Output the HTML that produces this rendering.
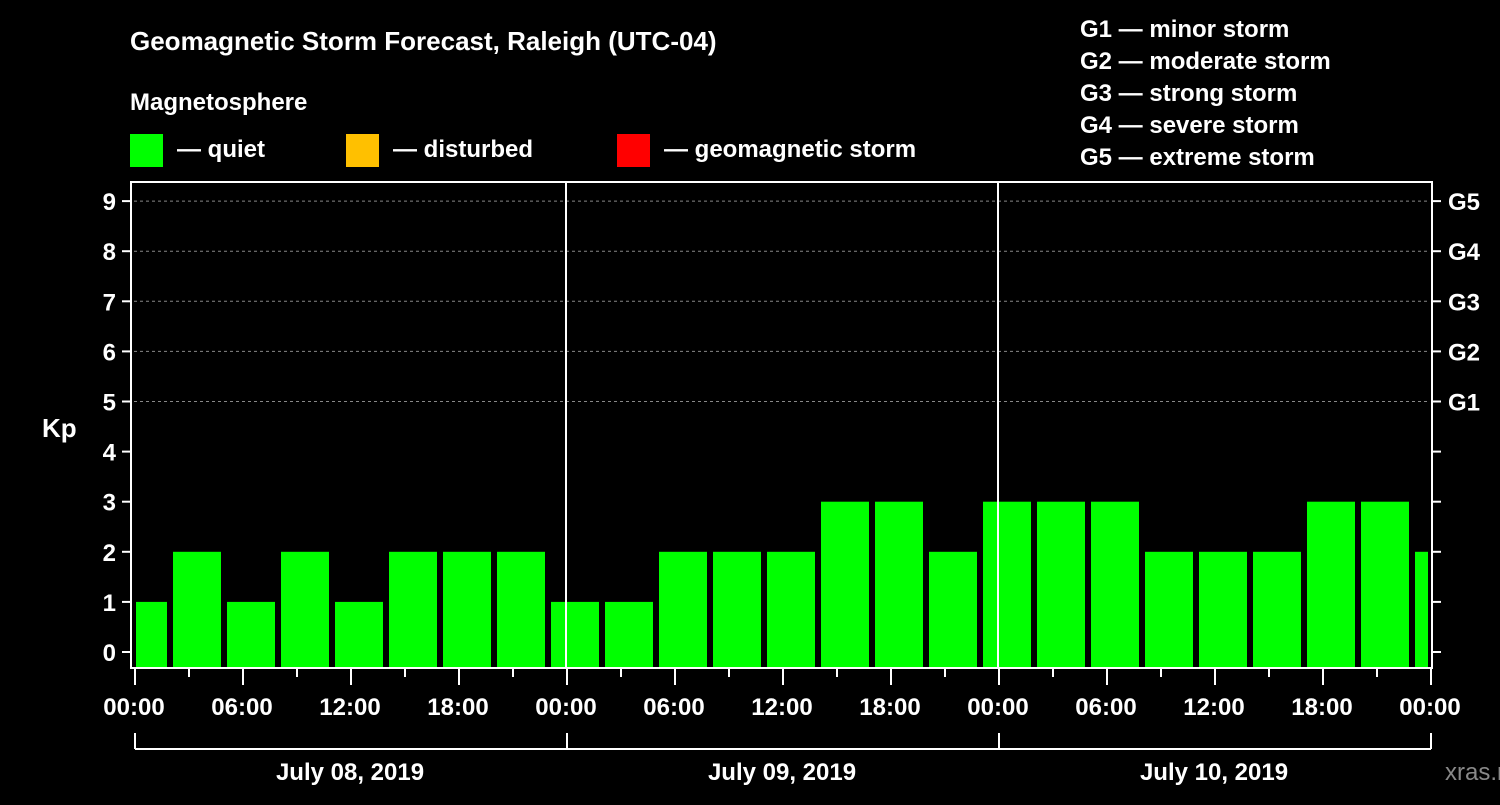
<!DOCTYPE html>
<html><head><meta charset="utf-8"><style>
body{margin:0;background:#000;}
svg text{font-family:"Liberation Sans",sans-serif;font-weight:bold;fill:#fff;}
</style></head><body>
<svg id="c" width="1500" height="800" xmlns="http://www.w3.org/2000/svg">
<rect width="1500" height="800" fill="#000"/>
<text x="130" y="50" font-size="26">Geomagnetic Storm Forecast, Raleigh (UTC-04)</text>
<text x="130" y="110" font-size="24">Magnetosphere</text>
<rect x="130" y="134" width="33" height="33" fill="#00ff00"/>
<text x="177" y="157" font-size="24">— quiet</text>
<rect x="346" y="134" width="33" height="33" fill="#ffc000"/>
<text x="393" y="157" font-size="24">— disturbed</text>
<rect x="617" y="134" width="33" height="33" fill="#ff0000"/>
<text x="664" y="157" font-size="24">— geomagnetic storm</text>
<g font-size="24">
<text x="1080" y="37">G1 — minor storm</text>
<text x="1080" y="69">G2 — moderate storm</text>
<text x="1080" y="101">G3 — strong storm</text>
<text x="1080" y="133">G4 — severe storm</text>
<text x="1080" y="165">G5 — extreme storm</text>
</g>
<text x="42" y="437" font-size="26">Kp</text>
<text x="1445" y="780" font-size="24" fill="#888" style="fill:#888;font-weight:normal">xras.ru</text>
<g id="g"></g>
</svg>
<script>
const kpValues=[1,2,1,2,1,2,2,2,1,1,2,2,2,3,3,2,3,3,3,2,2,2,3,3,2];
const yTicks=[0,1,2,3,4,5,6,7,8,9];
const gLabels=["G1","G2","G3","G4","G5"];
const xLabels=["00:00","06:00","12:00","18:00","00:00","06:00","12:00","18:00","00:00","06:00","12:00","18:00","00:00"];
const dateLabels=["July 08, 2019","July 09, 2019","July 10, 2019"];
const X0=134,X1=1430,HPX=18,Y0=652,UNIT=50.1,TOP=182,BOT=668;
const xs=h=>X0+h*HPX, ys=v=>Y0-v*UNIT;
const g=document.getElementById('g'),NS='http://www.w3.org/2000/svg';
function mk(t,a,txt){const e=document.createElementNS(NS,t);for(const k in a)e.setAttribute(k,a[k]);if(txt!=null)e.textContent=txt;g.appendChild(e);return e;}
// grid
yTicks.forEach(v=>{if(v>=5){const e=mk('line',{x1:X0,x2:X1,y1:ys(v),y2:ys(v),stroke:'#888','stroke-dasharray':'3,3','stroke-width':1});

}});
// bars
const clip=mk('clipPath',{id:'pc'});const cr=document.createElementNS(NS,'rect');cr.setAttribute('x',X0+2);cr.setAttribute('y',TOP);cr.setAttribute('width',X1-X0-4);cr.setAttribute('height',BOT-TOP);clip.appendChild(cr);
kpValues.forEach((v,i)=>{const h0=-1+3*i;const col=v>=5?'#ff0000':(v>=4?'#ffc000':'#00ff00');
const e=mk('rect',{x:xs(h0)+3,y:ys(v),width:3*HPX-6,height:BOT-ys(v),fill:col,'clip-path':'url(#pc)'});

});
// day separators
[24,48].forEach(h=>{const e=mk('line',{x1:xs(h),x2:xs(h),y1:TOP,y2:BOT,stroke:'#fff','stroke-width':2});

});
// frame
const fr=mk('rect',{x:131,y:TOP,width:X1-131+2,height:BOT-TOP,fill:'none',stroke:'#fff','stroke-width':2});


// y ticks
yTicks.forEach(v=>{mk('line',{x1:122,x2:131,y1:ys(v),y2:ys(v),stroke:'#fff','stroke-width':2});
mk('line',{x1:X1+2,x2:X1+11,y1:ys(v),y2:ys(v),stroke:'#fff','stroke-width':2});
const t=mk('text',{x:116,y:ys(v)+9,'font-size':24,'text-anchor':'end'},String(v));

});
gLabels.forEach((s,i)=>{const t=mk('text',{x:1448,y:ys(5+i)+9,'font-size':24},s);

});
// x ticks
for(let h=0;h<=72;h+=3){const major=h%6==0;mk('line',{x1:xs(h)+1,x2:xs(h)+1,y1:BOT,y2:BOT+(major?17:9),stroke:'#fff','stroke-width':2});}
xLabels.forEach((s,i)=>{const t=mk('text',{x:xs(i*6),y:715,'font-size':24,'text-anchor':'middle'},s);

});
// date bracket
mk('line',{x1:xs(0)+1,x2:xs(72)+1,y1:749,y2:749,stroke:'#fff','stroke-width':2});
[0,24,48,72].forEach(h=>mk('line',{x1:xs(h)+1,x2:xs(h)+1,y1:733,y2:749,stroke:'#fff','stroke-width':2}));
dateLabels.forEach((s,i)=>{const t=mk('text',{x:xs(12+24*i),y:780,'font-size':24,'text-anchor':'middle'},s);

});
</script>
</body></html>
